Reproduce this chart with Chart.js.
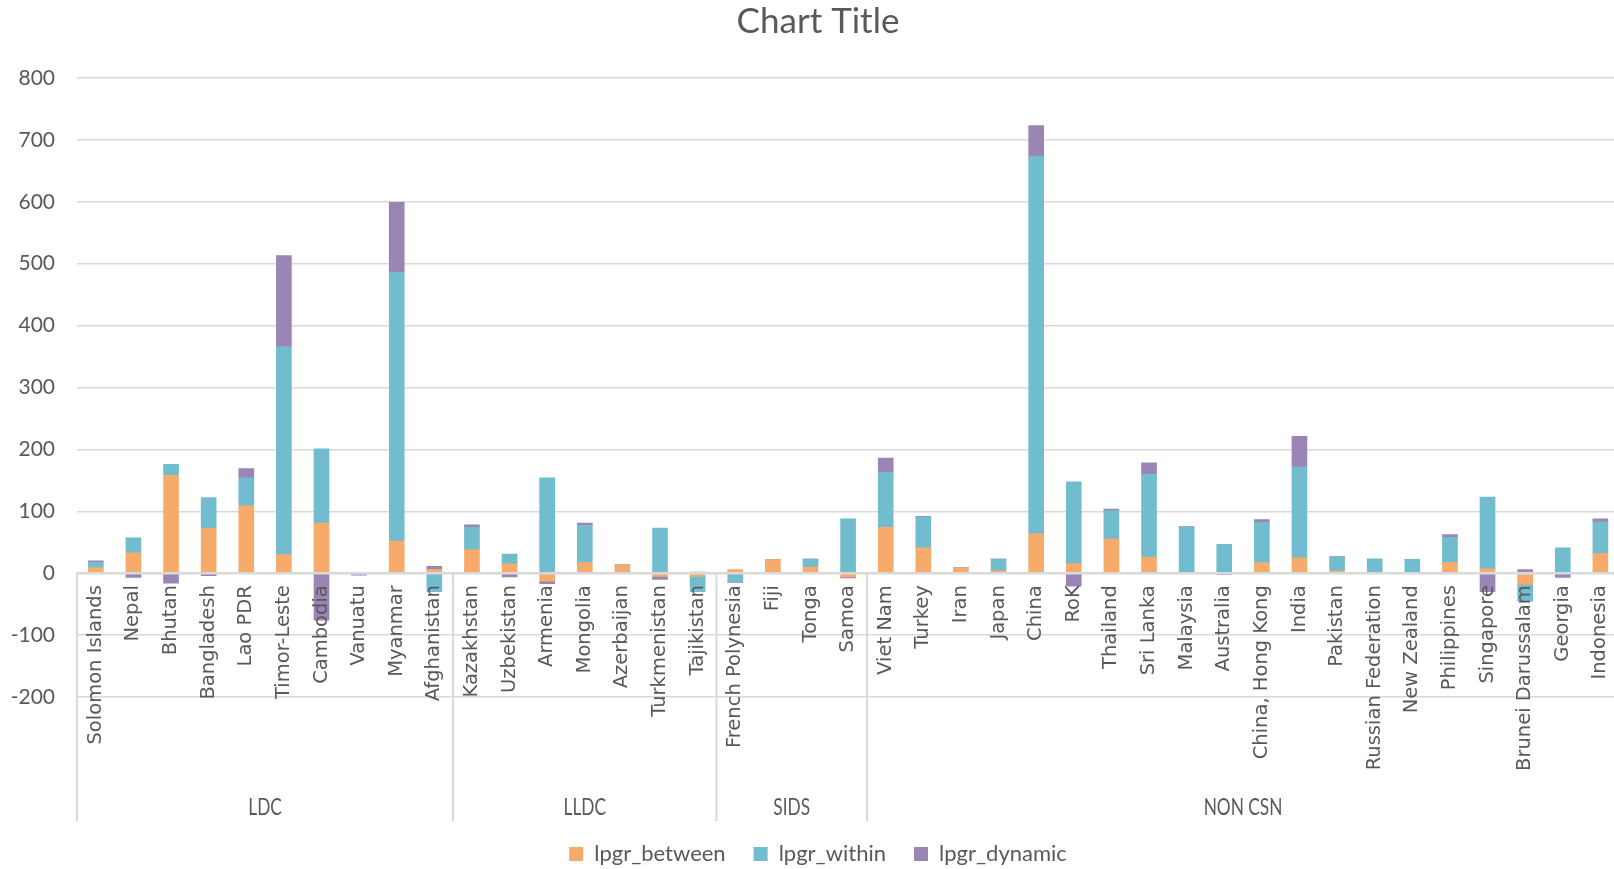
<!DOCTYPE html>
<html>
<head>
<meta charset="utf-8">
<title>lpgr decomposition</title>
<script src="https://cdn.jsdelivr.net/npm/chart.js@4"></script>
<style>
  html, body { margin: 0; padding: 0; background: #fff; overflow: hidden; }
  #wrap { width: 1636px; height: 875px; }
</style>
</head>
<body>
<div id="wrap"><canvas id="chart"></canvas></div>
<script>
// countries, in the order of the groups below
var countries = [
  "Solomon Islands", "Nepal", "Bhutan", "Bangladesh", "Lao PDR", "Timor-Leste", "Cambodia", "Vanuatu", "Myanmar", "Afghanistan",
  "Kazakhstan", "Uzbekistan", "Armenia", "Mongolia", "Azerbaijan", "Turkmenistan", "Tajikistan",
  "French Polynesia", "Fiji", "Tonga", "Samoa",
  "Viet Nam", "Turkey", "Iran", "Japan", "China", "RoK", "Thailand", "Sri Lanka", "Malaysia", "Australia",
  "China, Hong Kong", "India", "Pakistan", "Russian Federation", "New Zealand", "Philippines", "Singapore",
  "Brunei Darussalam", "Georgia", "Indonesia"
];

// country groups (second level of the category axis)
var groupNames = ["LDC", "LLDC", "SIDS", "NON CSN"];
var groupSizes = [10, 7, 4, 20];

// series
var between = [
  9, 33, 158, 72, 109, 30, 81, 0, 52, 6,
  38, 15, -13, 17, 13, -5, -5,
  6, 22, 10, -6,
  74, 41, 8.5, 4, 64, 15.5, 55, 26, 0.5, 0.5,
  17, 25, 3.5, 0.5, 0.5, 17, 7,
  -18, 0, 32
];
var within = [
  9, 24, 18, 50, 45, 336, 120, -2, 434, -30,
  36, 16, 154, 60, 0.5, 73, -25,
  -14, 0.5, 13, 88,
  89, 50, 0.5, 19, 610, 132, 46, 134, 74, 46,
  65, 147, 22.5, 22.5, 21.5, 41, 116,
  -27, 41, 51
];
var dynamic = [
  2, -7, -16, -4, 15, 147, -76, -1, 113, 5,
  4, -6, -4, 4, 0, -5, 2,
  -1, 0, 0, -1.5,
  23, 1, 0, 0, 49, -21, 2.5, 18.5, 1, -2,
  4.5, 49, 1, 0, 0, 4.5, -30,
  6, -7, 5
];

// y axis range
var yMin = -200;
var yMax = 800;
var yStep = 100;

var textGrey = "#595959";
var lineGrey = "#d9d9d9";

// draws the group names and the separators under the country labels
var groupAxis = {
  id: "groupAxis",
  afterDraw: function(chart) {
    var ctx = chart.ctx;
    var x = chart.scales.x;
    var y = chart.scales.y;
    var y0 = y.getPixelForValue(0);
    var half = (x.getPixelForValue(1) - x.getPixelForValue(0)) / 2;
    var start = 0;
    ctx.save();
    ctx.strokeStyle = lineGrey;
    ctx.lineWidth = 2;
    ctx.fillStyle = textGrey;
    ctx.font = "24px Lato";
    ctx.textAlign = "center";
    ctx.textBaseline = "middle";
    for (var k = 0; k < groupNames.length; k++) {
      var n = groupSizes[k];
      var left = x.getPixelForValue(start) - half;
      var right = x.getPixelForValue(start + n - 1) + half;
      ctx.beginPath();
      ctx.moveTo(left, y0);
      ctx.lineTo(left, y0 + 248);
      ctx.stroke();
      ctx.save();
      ctx.translate((left + right) / 2, y0 + 234);
      ctx.scale(0.72, 1);
      ctx.fillText(groupNames[k], 0, 0);
      ctx.restore();
      start += n;
    }
    ctx.restore();
  }
};

var myChart = new Chart(document.getElementById("chart"), {
  type: "bar",
  data: {
    labels: countries,
    datasets: [
      { label: "lpgr_between", data: between, backgroundColor: "#F7AB6A" },
      { label: "lpgr_within", data: within, backgroundColor: "#72BCD0" },
      { label: "lpgr_dynamic", data: dynamic, backgroundColor: "#9B85B5" }
    ]
  },
  options: {
    responsive: true,
    maintainAspectRatio: false,
    animation: false,
    datasets: { bar: { barThickness: 15 } },
    plugins: {
      title: {
        display: true,
        text: "Chart Title",
        color: textGrey,
        font: { family: "Lato", size: 35, weight: "normal" },
        padding: { top: 1, bottom: 35 }
      },
      legend: {
        position: "bottom",
        labels: {
          boxWidth: 14,
          boxHeight: 14,
          padding: 28,
          color: textGrey,
          font: { family: "Lato", size: 22 }
        }
      },
      tooltip: { enabled: false }
    },
    scales: {
      x: {
        stacked: true,
        position: { y: 0 },
        grid: { display: false, drawTicks: false },
        border: { color: lineGrey, width: 2.5, z: 1 },
        ticks: {
          z: 1,
          autoSkip: false,
          minRotation: 90,
          maxRotation: 90,
          padding: 12,
          color: textGrey,
          font: { family: "DejaVu Sans", size: 19.5 }
        }
      },
      // empty axis, only keeps room for the labels hanging below zero
      x2: {
        type: "category",
        position: "bottom",
        grid: { display: false, drawTicks: false },
        border: { display: false },
        ticks: { display: false },
        afterFit: function(s) { s.height = 118; }
      },
      y: {
        stacked: true,
        min: yMin,
        max: yMax,
        ticks: {
          stepSize: yStep,
          padding: 22,
          color: textGrey,
          font: { family: "Lato", size: 21 }
        },
        grid: { color: lineGrey, lineWidth: 1.5, drawTicks: false },
        border: { display: false },
        afterFit: function(s) { s.width = 77; }
      }
    }
  },
  plugins: [groupAxis]
});
</script>
</body>
</html>
